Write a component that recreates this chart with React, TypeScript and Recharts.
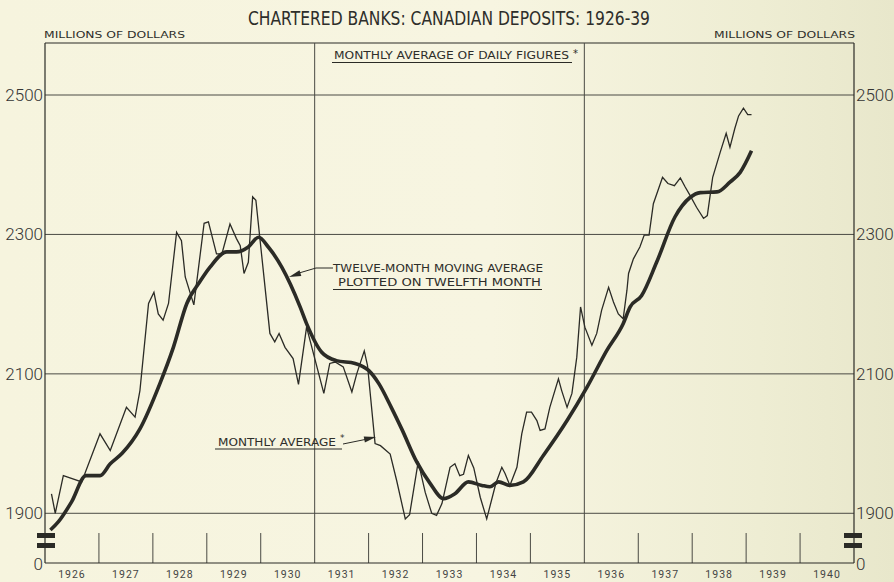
import { LineChart, Line, XAxis, YAxis, ReferenceLine } from "recharts";

// monthly average of daily figures (decimal year / millions)
const monthlyDates = [
  1926.12, 1926.19, 1926.34, 1926.68, 1927.02, 1927.21, 1927.51, 1927.67, 1927.76, 1927.92,
  1928.02, 1928.1, 1928.19, 1928.29, 1928.44, 1928.53, 1928.6, 1928.76, 1928.95, 1929.03,
  1929.18, 1929.28, 1929.43, 1929.55, 1929.62, 1929.69, 1929.77, 1929.85, 1929.91, 1930.17,
  1930.26, 1930.34, 1930.45, 1930.6, 1930.7, 1930.85, 1931.17, 1931.28, 1931.38, 1931.53,
  1931.69, 1931.78, 1931.92, 1931.98, 1932.12, 1932.22, 1932.4, 1932.52, 1932.68, 1932.76,
  1932.92, 1933.05, 1933.17, 1933.26, 1933.36, 1933.51, 1933.6, 1933.69, 1933.76, 1933.85,
  1933.95, 1934.07, 1934.19, 1934.36, 1934.47, 1934.53, 1934.62, 1934.75, 1934.84, 1934.93,
  1935.02, 1935.12, 1935.18, 1935.27, 1935.36, 1935.52, 1935.58, 1935.68, 1935.77, 1935.86,
  1935.93, 1936.01, 1936.14, 1936.23, 1936.32, 1936.45, 1936.54, 1936.63, 1936.72, 1936.79,
  1936.82, 1936.91, 1937.03, 1937.11, 1937.2, 1937.28, 1937.45, 1937.55, 1937.67, 1937.78,
  1937.87, 1937.96, 1938.08, 1938.21, 1938.28, 1938.38, 1938.52, 1938.63, 1938.7, 1938.79,
  1938.86, 1938.95, 1939.03, 1939.1,
];
const monthlyValues = [
  1928, 1900, 1954, 1945, 2014, 1990, 2052, 2038, 2076, 2201,
  2217, 2186, 2177, 2201, 2303, 2291, 2239, 2199, 2316, 2318,
  2272, 2272, 2315, 2294, 2284, 2244, 2260, 2354, 2349, 2158,
  2146, 2158, 2138, 2122, 2085, 2167, 2072, 2115, 2117, 2110,
  2074, 2100, 2133, 2112, 2000, 1997, 1985, 1947, 1892, 1898,
  1974, 1930, 1900, 1897, 1914, 1966, 1971, 1954, 1956, 1983,
  1965, 1923, 1892, 1943, 1966, 1957, 1940, 1966, 2014, 2045,
  2045, 2033, 2019, 2021, 2052, 2093, 2076, 2052, 2072, 2124,
  2196, 2167, 2141, 2158, 2191, 2224, 2203, 2186, 2179, 2220,
  2244, 2265, 2282, 2299, 2299, 2344, 2382, 2373, 2370, 2381,
  2368, 2356, 2339, 2323, 2327, 2382, 2418, 2445, 2425, 2452,
  2470, 2481, 2472, 2472,
];

// twelve-month moving average, plotted on twelfth month
const movingDates = [
  1926.1, 1926.25, 1926.49, 1926.76, 1927.02, 1927.21, 1927.43, 1927.76, 1928.13, 1928.38,
  1928.63, 1928.87, 1929.06, 1929.37, 1929.55, 1929.77, 1929.96, 1930.14, 1930.39, 1930.73,
  1930.85, 1931.13, 1931.4, 1931.75, 1932.0, 1932.19, 1932.42, 1932.62, 1932.89, 1933.14,
  1933.39, 1933.6, 1933.85, 1934.1, 1934.25, 1934.41, 1934.62, 1934.87, 1935.24, 1935.68,
  1936.05, 1936.42, 1936.72, 1936.85, 1937.06, 1937.34, 1937.68, 1937.96, 1938.15, 1938.46,
  1938.7, 1938.89, 1939.1,
];
const movingValues = [
  1876, 1888, 1916, 1954, 1954, 1971, 1986, 2021, 2086, 2138,
  2201, 2232, 2253, 2275, 2275, 2282, 2296, 2282, 2253, 2196,
  2172, 2131, 2119, 2115, 2105, 2086, 2052, 2020, 1974, 1943,
  1921, 1928, 1945, 1940, 1938, 1945, 1940, 1945, 1983, 2033,
  2081, 2134, 2172, 2196, 2212, 2260, 2325, 2353, 2360, 2361,
  2375, 2389, 2420,
];

const years = [1926, 1927, 1928, 1929, 1930, 1931, 1932, 1933, 1934, 1935, 1936, 1937, 1938, 1939, 1940];
const valueTicks = [1900, 2100, 2300, 2500];
const fullYearLines = [1931, 1936];

// broken scale: the bottom edge stands for 0
const BASE = 1828.7;
const TOP = 2574.6;
const TICK_UNITS = 43;

const monthlyData = monthlyDates.map((t, i) => ({ t, v: monthlyValues[i] }));
const movingData = movingDates.map((t, i) => ({ t, v: movingValues[i] }));

const INK = "#2b2b26";
const FONT = "'DejaVu Sans', 'Liberation Sans', sans-serif";

function ValueTick(props: any) {
  const { x, y, payload, side } = props;
  const isZero = payload.value === BASE;
  const anchor = side === "left" ? "end" : "start";
  const cx = side === "left" ? x + 3 : x - 3;
  return (
    <g>
      <text
        x={x}
        y={y}
        dy={isZero ? 7 : 6}
        textAnchor={anchor}
        fontFamily="Roboto, sans-serif"
        fontWeight={300}
        fontSize={17}
        fill="#333"
      >
        {isZero ? "0" : payload.value}
      </text>
      {isZero && (
        <g fill={INK}>
          <rect x={cx - 9} y={y - 30} width={18} height={5} />
          <rect x={cx - 9} y={y - 20} width={18} height={5} />
        </g>
      )}
    </g>
  );
}

export default function App() {
  return (
    <div
      style={{
        position: "absolute",
        left: 0,
        top: 0,
        width: 894,
        height: 582,
        background: "linear-gradient(90deg, #f6f4de 0%, #f7f5e1 55%, #eeedd3 85%, #e8e7cb 100%)",
      }}
    >
      <LineChart width={894} height={582} margin={{ top: 43, right: 0, bottom: 0, left: 0 }}>
        <XAxis
          type="number"
          dataKey="t"
          domain={[1926, 1941]}
          allowDataOverflow
          ticks={years.map((y) => y + 0.5)}
          tickFormatter={(v: number) => String(Math.floor(v))}
          tickLine={false}
          tickSize={0}
          tickMargin={8}
          height={19}
          axisLine={{ stroke: INK, strokeWidth: 1 }}
          tick={{ fontSize: 10.5, fill: "#444", fontFamily: "Roboto, sans-serif", letterSpacing: 1 }}
          interval={0}
        />
        <YAxis
          yAxisId="left"
          type="number"
          domain={[BASE, TOP]}
          allowDataOverflow
          ticks={[BASE, ...valueTicks]}
          width={45}
          tickLine={false}
          tickSize={0}
          tickMargin={2}
          axisLine={{ stroke: INK, strokeWidth: 1.2 }}
          tick={<ValueTick side="left" />}
          interval={0}
        />
        <YAxis
          yAxisId="right"
          orientation="right"
          type="number"
          domain={[BASE, TOP]}
          allowDataOverflow
          ticks={[BASE, ...valueTicks]}
          width={40}
          tickLine={false}
          tickSize={0}
          tickMargin={2}
          axisLine={{ stroke: INK, strokeWidth: 1.2 }}
          tick={<ValueTick side="right" />}
          interval={0}
        />
        {valueTicks.map((v) => (
          <ReferenceLine key={"h" + v} yAxisId="left" y={v} stroke="#4a4a44" strokeWidth={1} />
        ))}
        <ReferenceLine yAxisId="left" y={TOP} stroke={INK} strokeWidth={1.2} />
        {fullYearLines.map((yr) => (
          <ReferenceLine key={"v" + yr} yAxisId="left" x={yr} stroke="#4a4a44" strokeWidth={1} />
        ))}
        {years
          .filter((yr) => yr > 1926 && !fullYearLines.includes(yr))
          .map((yr) => (
            <ReferenceLine
              key={"t" + yr}
              yAxisId="left"
              segment={[
                { x: yr, y: BASE },
                { x: yr, y: BASE + TICK_UNITS },
              ]}
              stroke="#4a4a44"
              strokeWidth={1}
            />
          ))}
        <Line
          yAxisId="left"
          data={monthlyData}
          dataKey="v"
          type="linear"
          stroke={INK}
          strokeWidth={1.3}
          dot={false}
          isAnimationActive={false}
        />
        <Line
          yAxisId="left"
          data={movingData}
          dataKey="v"
          type="monotone"
          stroke={INK}
          strokeWidth={3.6}
          strokeLinejoin="round"
          dot={false}
          isAnimationActive={false}
        />
      </LineChart>
      <svg
        width={894}
        height={582}
        style={{ position: "absolute", left: 0, top: 0, pointerEvents: "none" }}
        fontFamily={FONT}
        fill="#2e2e2a"
      >
        <text x={248} y={25} fontSize={19} textLength={402} lengthAdjust="spacingAndGlyphs">
          CHARTERED BANKS: CANADIAN DEPOSITS: 1926-39
        </text>
        <text x={44} y={38} fontSize={9} textLength={141} lengthAdjust="spacingAndGlyphs">
          MILLIONS OF DOLLARS
        </text>
        <text x={714} y={38} fontSize={9} textLength={141} lengthAdjust="spacingAndGlyphs">
          MILLIONS OF DOLLARS
        </text>
        <text x={334} y={59} fontSize={10.5} textLength={235} lengthAdjust="spacingAndGlyphs">
          MONTHLY AVERAGE OF DAILY FIGURES
        </text>
        <text x={573} y={57} fontSize={10}>*</text>
        <line x1={332} y1={62.5} x2={572} y2={62.5} stroke={INK} strokeWidth={1.2} />

        <text x={333} y={272} fontSize={11} textLength={210} lengthAdjust="spacingAndGlyphs">
          TWELVE-MONTH MOVING AVERAGE
        </text>
        <text x={338} y={286} fontSize={11} textLength={203} lengthAdjust="spacingAndGlyphs">
          PLOTTED ON TWELFTH MONTH
        </text>
        <line x1={333} y1={289.5} x2={542} y2={289.5} stroke={INK} strokeWidth={1.2} />
        <polyline points="333,268 316,268 299,273" fill="none" stroke={INK} strokeWidth={1} />
        <polygon points="289,277 301.3,276 299.5,270.3" fill={INK} />

        <text x={218} y={446} fontSize={11} textLength={118} lengthAdjust="spacingAndGlyphs">
          MONTHLY AVERAGE
        </text>
        <text x={340} y={441} fontSize={9}>*</text>
        <line x1={215} y1={449} x2={342} y2={449} stroke={INK} strokeWidth={1.2} />
        <line x1={343} y1={444} x2={365} y2={439.5} stroke={INK} strokeWidth={1} />
        <polygon points="376,437 364.9,442.4 363.7,436.6" fill={INK} />
      </svg>
    </div>
  );
}
